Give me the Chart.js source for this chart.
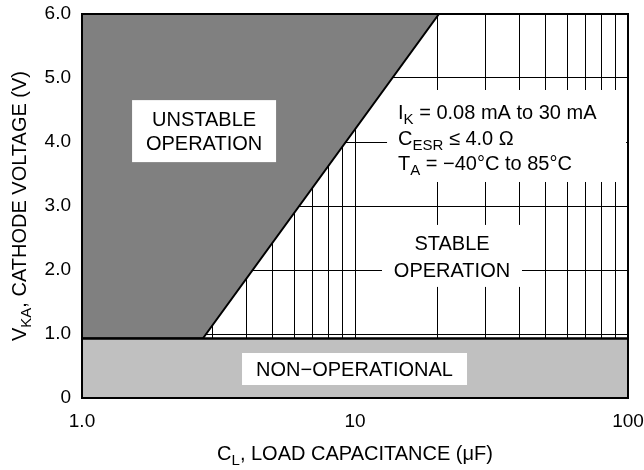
<!DOCTYPE html>
<html><head><meta charset="utf-8">
<script src="https://cdn.jsdelivr.net/npm/chart.js@4"></script>
<style>html,body{margin:0;padding:0;background:#fff}#wrap{width:644px;height:470px}</style>
</head><body><div id="wrap"><canvas id="c" width="644" height="470"></canvas></div>
<script>
// ---- data ----
const xGridValues = [1,2,3,4,5,6,7,8,9,10,20,30,40,50,60,70,80,90,100];
const xTickLabels = {1:'1.0', 10:'10', 100:'100'};
const yTickLabels = ['0','1.0','2.0','3.0','4.0','5.0','6.0'];
const nonOperationalTop = [{x:1,y:0.93},{x:100,y:0.93}];
const unstableBoundary = [{x:1,y:0.93},{x:2.77,y:0.93},{x:20.3,y:6.0}];

const FONT = '"Liberation Sans", Arial, sans-serif';
const MAIN = '20px ' + FONT;
const SUB = '15px ' + FONT;

// annotation boxes (anchored in data coordinates, sized in px)
const notes = [
  {cx:2.8, cy:4.17, w:144, h:62, align:'center', lines:[
    {dy:-12, segs:[['UNSTABLE']]}, {dy:12, segs:[['OPERATION']]}]},
  {cx:35.9, cy:4.094, w:239, h:92, align:'left', left:11, lines:[
    {dy:-24, segs:[['I'],['K',1],[' = 0.08 mA to 30 mA']]},
    {dy:2, segs:[['C'],['ESR',1],[' \u2264 4.0 \u03A9']]},
    {dy:27, segs:[['T'],['A',1],[' = \u221240\u00B0C to 85\u00B0C']]}]},
  {cx:22.66, cy:2.22, w:140, h:62, align:'center', lines:[
    {dy:-13, segs:[['STABLE']]}, {dy:14, segs:[['OPERATION']]}]},
  {cx:9.96, cy:0.453, w:225, h:32, align:'center', lines:[
    {dy:0, segs:[['NON\u2212OPERATIONAL']]}]}
];

function segWidth(ctx, segs){
  let w = 0;
  segs.forEach(s => { ctx.font = s[1] ? SUB : MAIN; w += ctx.measureText(s[0]).width; });
  return w;
}
function drawRich(ctx, segs, x, yCenter, align){
  const total = segWidth(ctx, segs);
  let cx = align === 'center' ? x - total/2 : x;
  const base = yCenter + 7;
  ctx.textAlign = 'left'; ctx.textBaseline = 'alphabetic'; ctx.fillStyle = '#000';
  segs.forEach(s => {
    ctx.font = s[1] ? SUB : MAIN;
    ctx.fillText(s[0], cx, s[1] ? base + 5 : base);
    cx += ctx.measureText(s[0]).width;
  });
}

const overlay = {
  id: 'overlay',
  afterDatasetsDraw(chart){
    const ctx = chart.ctx, xs = chart.scales.x, ys = chart.scales.y, a = chart.chartArea;
    ctx.save();
    notes.forEach(n => {
      const px = xs.getPixelForValue(n.cx), py = ys.getPixelForValue(n.cy);
      ctx.fillStyle = '#fff';
      ctx.fillRect(px - n.w/2, py - n.h/2, n.w, n.h);
      n.lines.forEach(l => {
        if (n.align === 'center') drawRich(ctx, l.segs, px, py + l.dy, 'center');
        else drawRich(ctx, l.segs, px - n.w/2 + n.left, py + l.dy, 'left');
      });
    });
    // frame
    ctx.strokeStyle = '#000'; ctx.lineWidth = 2;
    ctx.strokeRect(a.left, a.top, a.right - a.left, a.bottom - a.top);
    // axis titles
    drawRich(ctx, [['C'],['L',1],[', LOAD CAPACITANCE (\u03BCF)']], (a.left + a.right)/2, 453, 'center');
    ctx.translate(19, (a.top + a.bottom)/2);
    ctx.rotate(-Math.PI/2);
    drawRich(ctx, [['V'],['KA',1],[', CATHODE VOLTAGE (V)']], 0, 0, 'center');
    ctx.restore();
  }
};

new Chart(document.getElementById('c'), {
  type: 'scatter',
  data: {
    datasets: [
      {data: nonOperationalTop, showLine: true, fill: 'origin', backgroundColor: '#c0c0c0',
       borderColor: '#000', borderWidth: 2.5, pointRadius: 0, order: 1},
      {data: unstableBoundary, showLine: true, fill: 'end', backgroundColor: '#808080',
       borderColor: '#000', borderWidth: 2, pointRadius: 0, order: 2}
    ]
  },
  options: {
    responsive: false, animation: false, devicePixelRatio: 1,
    layout: {padding: {top: 14, right: 16, left: 0, bottom: 0}},
    plugins: {legend: {display: false}, tooltip: {enabled: false}},
    scales: {
      x: {
        type: 'logarithmic', min: 1, max: 100,
        afterBuildTicks: s => { s.ticks = xGridValues.map(v => ({value: v})); },
        afterFit: s => { s.height = 72; s.paddingLeft = 0; s.paddingRight = 0; },
        grid: {color: '#000', lineWidth: 1, drawTicks: false},
        border: {display: false},
        ticks: {autoSkip: false, maxRotation: 0, padding: 12, color: '#000',
          font: {family: FONT, size: 19},
          callback: v => (xTickLabels[v] !== undefined ? xTickLabels[v] : '')}
      },
      y: {
        min: 0, max: 6,
        afterFit: s => { s.width = 82; s.paddingTop = 0; s.paddingBottom = 0; },
        grid: {color: '#000', lineWidth: 1, drawTicks: false},
        border: {display: false},
        ticks: {stepSize: 1, padding: 11, color: '#000',
          font: {family: FONT, size: 19},
          callback: (v) => yTickLabels[Math.round(v)]}
      }
    }
  },
  plugins: [overlay]
});
</script></body></html>
